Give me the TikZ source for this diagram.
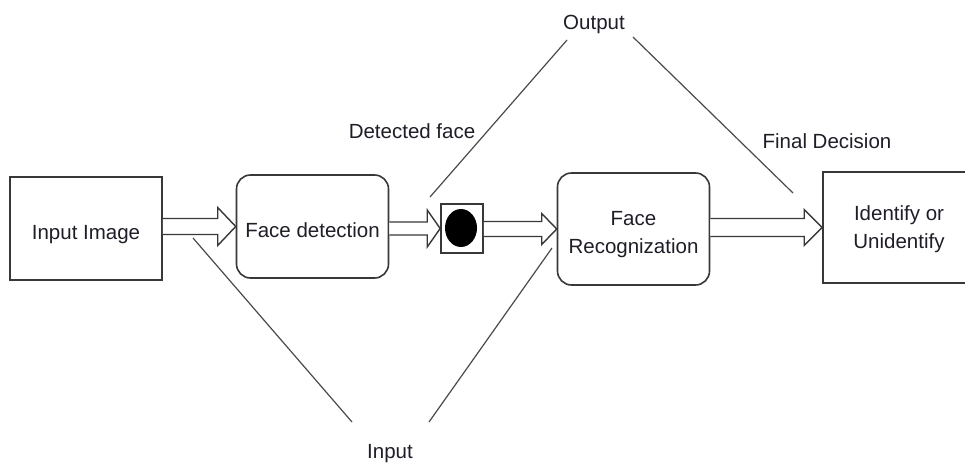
\documentclass[tikz,border=0pt]{standalone}
\usepackage{fontspec}
\setmainfont{Liberation Sans}
\usetikzlibrary{calc,shapes.geometric}
\definecolor{boxc}{HTML}{383838}
\definecolor{linec}{HTML}{4A4A4A}
\definecolor{txtc}{HTML}{1E1E28}
\newcommand{\blockarr}[5]{%
  \draw[blockarrow] let \p1=(#1.east), \p2=(#2.west) in
    (\x1,\y2+#4) -- (\x2-#3,\y2+#4) -- (\x2-#3,\y2+#5) -- (\x2,\y2)
    -- (\x2-#3,\y2-#5) -- (\x2-#3,\y2-#4) -- (\x1,\y2-#4);}
\begin{document}
\begin{tikzpicture}[x=1pt,y=-1pt,
  box/.style={draw=boxc, line width=1.6pt, fill=white, minimum width=152pt,
    minimum height=103pt, inner sep=0pt, font=\fontsize{20.5}{28}\selectfont,
    text=txtc, text height=21pt, text depth=0pt},
  rbox/.style={box, rounded corners=14pt},
  lbl/.style={font=\fontsize{20.5}{24}\selectfont, text=txtc, inner sep=0pt, anchor=base},
  thinline/.style={draw=linec, line width=1.2pt},
  blockarrow/.style={draw=boxc, line width=1.4pt, fill=white, line join=miter}]
\clip (0,0) rectangle (965,466);
\fill[white] (0,0) rectangle (965,466);

% boxes
\node[box] (inimg) at (86,228.5) {Input Image};
\node[rbox] (facedet) at (312.5,226.5) {Face detection};
\node[draw=boxc, line width=1.6pt, fill=white, minimum width=42pt, minimum height=49pt, inner sep=0pt] (dotbox) at (462,228.5) {};
\node[ellipse, fill=black, minimum width=32pt, minimum height=38pt, inner sep=0pt] (dot) at (461,228) {};
\node[rbox, minimum height=112pt, align=center, text height=48pt] (facerec) at (633.5,229) {Face\\Recognization};
\node[box, minimum width=152pt, minimum height=111pt, align=center, text height=41pt] (ident) at (899,227.5) {Identify or\\Unidentify};

% block arrows
\blockarr{inimg}{facedet}{18pt}{8pt}{19pt}
\blockarr{facedet}{dotbox}{13pt}{6.5pt}{18.5pt}
\blockarr{dotbox}{facerec}{15pt}{7.5pt}{15.5pt}
\blockarr{facerec}{ident}{18pt}{9pt}{18pt}

% labels
\node[lbl] (out) at (594,29) {Output};
\node[lbl] (detf) at (412,138.5) {Detected face};
\node[lbl] (findec) at (827,148) {Final Decision};
\node[lbl] (inp) at (390,458) {Input};

% pointer lines
\coordinate (o1) at (567,40);
\coordinate (o2) at (633,37);
\coordinate (d1) at (430,197);
\coordinate (f1) at (793,193);
\coordinate (i1) at (193,238);
\coordinate (i2) at (552,248);
\coordinate (b1) at (352,422);
\coordinate (b2) at (429,422);
\draw[thinline] (o1) -- (d1);
\draw[thinline] (o2) -- (f1);
\draw[thinline] (i1) -- (b1);
\draw[thinline] (i2) -- (b2);
\end{tikzpicture}
\end{document}
